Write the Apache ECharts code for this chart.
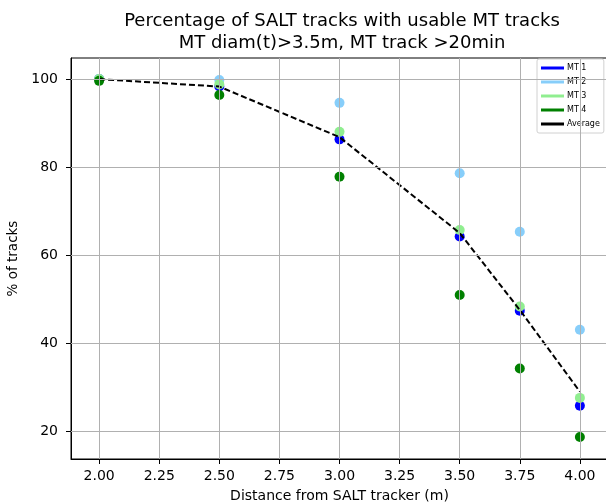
<!DOCTYPE html>
<html>
<head>
<meta charset="utf-8">
<script src="https://cdn.jsdelivr.net/npm/echarts@6/dist/echarts.min.js"></script>
<style>
html, body { margin: 0; padding: 0; background: #fff; }
#chart { width: 606px; height: 504px; }
</style>
</head>
<body>
<div id="chart"></div>
<script>
const distances = [2.0, 2.5, 3.0, 3.5, 3.75, 4.0]
const mt1 = [100, 98.3, 86.3, 64.2, 47.3, 25.7]
const mt2 = [100, 99.8, 94.6, 78.6, 65.3, 43.0]
const mt3 = [100, 98.8, 88.0, 65.7, 48.3, 27.5]
const mt4 = [99.6, 96.4, 77.8, 50.9, 34.2, 18.6]
const average = [100, 98.3, 86.8, 65.0, 47.5, 28.9]
const xTicks = [2.0, 2.25, 2.5, 2.75, 3.0, 3.25, 3.5, 3.75, 4.0]
const yTicks = [20, 40, 60, 80, 100]

const font = 'DejaVu Sans'
const pairs = arr => distances.map((d, i) => [d, arr[i]])

const scatter = (name, color, values) => ({
  name: name,
  type: 'scatter',
  data: pairs(values),
  symbolSize: 10,
  itemStyle: { color: color, opacity: 1 },
  z: 3
})

let chart = echarts.init(document.getElementById('chart'))
let option = {
  animation: false,
  textStyle: { fontFamily: font },
  title: {
    text: 'Percentage of SALT tracks with usable MT tracks\nMT diam(t)>3.5m, MT track >20min',
    left: 337,
    textAlign: 'center',
    top: 5,
    textStyle: { fontFamily: font, fontSize: 18, fontWeight: 'normal', color: '#000', lineHeight: 22 }
  },
  legend: {
    orient: 'vertical',
    left: 537,
    top: 59,
    itemWidth: 23,
    itemHeight: 3,
    itemGap: 4,
    padding: [4, 4, 4, 4],
    backgroundColor: '#fff',
    borderColor: '#d0d0d0',
    borderWidth: 1,
    borderRadius: 2,
    textStyle: { fontFamily: font, fontSize: 8, color: '#000', lineHeight: 10, padding: [0, 0, 0, -2] },
    data: [
      { name: 'MT 1', icon: 'rect' },
      { name: 'MT 2', icon: 'rect' },
      { name: 'MT 3', icon: 'rect' },
      { name: 'MT 4', icon: 'rect' },
      { name: 'Average', icon: 'rect' }
    ]
  },
  grid: {
    left: 71,
    width: 537,
    top: 58,
    bottom: 45,
    outerBoundsMode: 'none',
    containLabel: false,
    show: true,
    borderColor: '#000',
    borderWidth: 1
  },
  xAxis: {
    type: 'value',
    min: 1.883,
    max: 4.117,
    name: 'Distance from SALT tracker (m)',
    nameLocation: 'middle',
    nameGap: 30,
    nameTextStyle: { fontFamily: font, fontSize: 14, color: '#000' },
    axisLine: { show: true, lineStyle: { color: '#000' } },
    axisTick: { show: true, inside: false, length: 5, lineStyle: { color: '#000' }, customValues: xTicks },
    axisLabel: {
      fontFamily: font, fontSize: 14, color: '#000', margin: 10,
      customValues: xTicks,
      formatter: v => v.toFixed(2)
    },
    splitLine: { show: false }
  },
  yAxis: {
    type: 'value',
    min: 13.6,
    max: 104.8,
    name: '% of tracks',
    nameLocation: 'middle',
    nameGap: 50,
    nameTextStyle: { fontFamily: font, fontSize: 13.5, color: '#000' },
    axisLine: { show: true, lineStyle: { color: '#000' } },
    axisTick: { show: true, inside: false, length: 5, lineStyle: { color: '#000' }, customValues: yTicks },
    axisLabel: {
      fontFamily: font, fontSize: 14, color: '#000', margin: 13,
      customValues: yTicks,
      formatter: v => String(v)
    },
    splitLine: { show: false }
  },
  series: [
    {
      name: 'grid',
      type: 'line',
      data: [],
      silent: true,
      z: 1,
      markLine: {
        silent: true,
        symbol: 'none',
        label: { show: false },
        lineStyle: { color: '#b0b0b0', width: 1, type: 'solid' },
        data: xTicks.map(v => ({ xAxis: v })).concat(yTicks.map(v => ({ yAxis: v })))
      }
    },
    scatter('MT 1', '#0000ff', mt1),
    scatter('MT 2', '#87cefa', mt2),
    scatter('MT 3', '#90ee90', mt3),
    scatter('MT 4', '#008000', mt4),
    {
      name: 'Average',
      type: 'line',
      data: pairs(average),
      showSymbol: false,
      symbol: 'none',
      itemStyle: { color: '#000' },
      lineStyle: { color: '#000', width: 2, type: [6, 3] },
      z: 4
    }
  ]
}
chart.setOption(option)
</script>
</body>
</html>
